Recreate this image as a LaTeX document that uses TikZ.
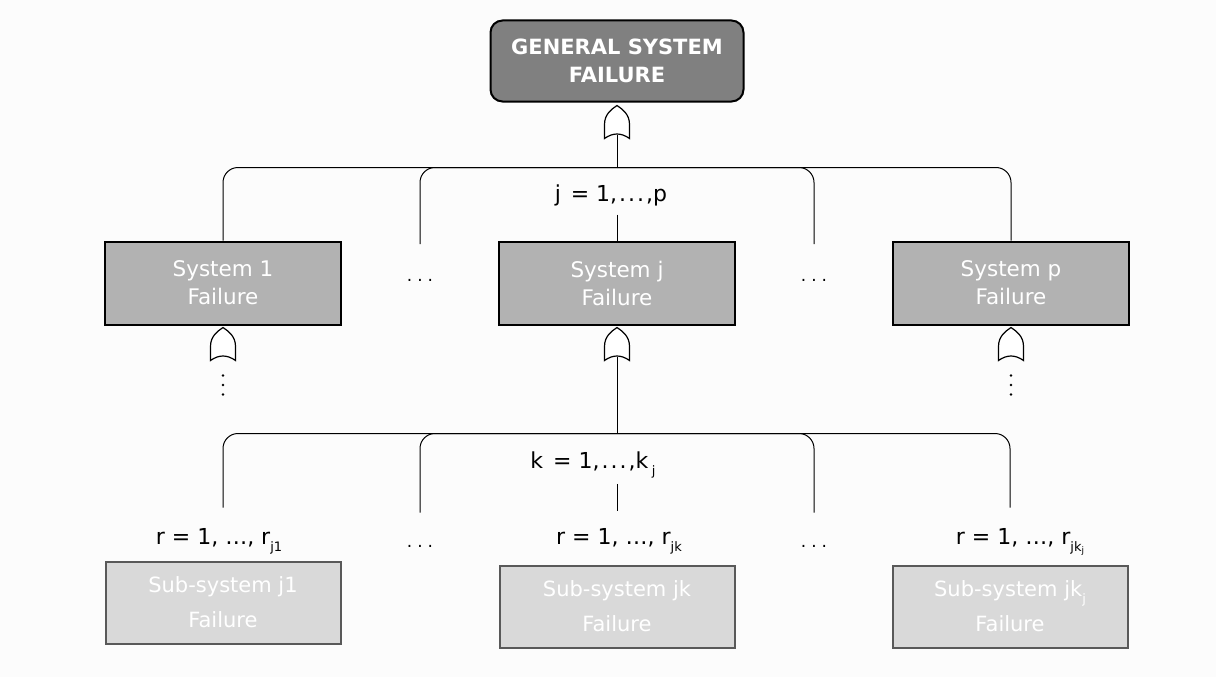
\documentclass[tikz,border=0pt]{standalone}
\usepackage{fontspec}
\setmainfont{DejaVu Sans}
\usetikzlibrary{positioning, calc, backgrounds}

% subindices de las etiquetas
\newcommand{\subind}[1]{\raisebox{-0.55ex}{\fontsize{13}{13}\selectfont #1}}

\begin{document}
\begin{tikzpicture}[
        % Evento superior
        topbox/.style={
                rectangle,
                rounded corners=12pt,
                minimum height=81pt,
                minimum width=253pt,
                align=center,
                font=\bfseries\fontsize{21}{28}\selectfont,
                text=white,
                fill=black!50,
                draw=black,
                line width=2pt
            },
        % Fallo de cada sistema
        sysbox/.style={
                rectangle,
                minimum height=83pt,
                minimum width=236pt,
                align=center,
                font=\fontsize{21.5}{28}\selectfont,
                text=white,
                fill=black!30,
                draw=black,
                line width=2pt
            },
        % Fallo de cada subsistema
        subbox/.style={
                rectangle,
                minimum height=82pt,
                minimum width=235pt,
                align=center,
                font=\fontsize{21}{35}\selectfont,
                text=white,
                fill=black!15,
                draw=black!65,
                line width=2pt
            },
        % Ramas del arbol
        rama/.style={line width=1pt, rounded corners=15pt},
        etiqueta/.style={font=\fontsize{22}{24}\selectfont, inner sep=2pt},
        puntos/.style={font=\fontsize{17}{10}\selectfont, inner sep=0pt},
        % Puerta OR
        orgate/.pic={
                \draw[x=1pt, y=1pt, line width=1.2pt, fill=white]
                (-12.5,-33) -- (-12.5,-19)
                .. controls (-12.5,-9) and (-6,-4) .. (0,0)
                .. controls (6,-4) and (12.5,-9) .. (12.5,-19)
                -- (12.5,-33)
                .. controls (4,-27) and (-4,-27) .. cycle;
                \coordinate (-out) at (0pt,-29pt);
            }
    ]

    \useasboundingbox (0pt,0pt) rectangle (1216pt,-677pt);

    % EVENTO SUPERIOR
    \node[topbox] (top) at (617pt,-61pt) {GENERAL SYSTEM\\FAILURE};

    % SISTEMAS
    \node[sysbox, below=138pt of top] (sysj) {System j\\Failure};
    \node[sysbox, left=156pt of sysj] (sys1) {System 1\\Failure};
    \node[sysbox, right=156pt of sysj] (sysp) {System p\\Failure};

    \node[puntos, yshift=3pt] (dots1) at ($(sys1.east)!0.5!(sysj.west)$) {.\hspace{5pt}.\hspace{5pt}.};
    \node[puntos, yshift=3pt] (dots2) at ($(sysj.east)!0.5!(sysp.west)$) {.\hspace{5pt}.\hspace{5pt}.};

    % SUBSISTEMAS
    \node[subbox, below=239pt of sysj] (subk) {Sub-system jk\\Failure};
    \node[subbox, left=157pt of subk, yshift=4pt] (sub1) {Sub-system j1\\Failure};
    \node[subbox, right=156pt of subk] (subp) {Sub-system jk\subind{j}\\Failure};

    \node[puntos, below=264pt of dots1] (dots3) {.\hspace{5pt}.\hspace{5pt}.};
    \node[puntos, below=264pt of dots2] (dots4) {.\hspace{5pt}.\hspace{5pt}.};

    % Puertas
    \pic (g0) at ([yshift=-3pt]top.south) {orgate};
    \pic (g1) at ([yshift=-2pt]sys1.south) {orgate};
    \pic (gj) at ([yshift=-2pt]sysj.south) {orgate};
    \pic (gp) at ([yshift=-2pt]sysp.south) {orgate};

    % puntos verticales bajo las puertas laterales
    \foreach \g in {g1, gp}
    \foreach \d in {19, 28.5, 38}
    \fill ([yshift=-\d pt]\g-out) circle (1.4pt);

    % Primer nivel
    \coordinate[above=73pt of sysj] (bus1);
    \coordinate (d1) at ([yshift=36pt]dots1.center);
    \coordinate (d2) at ([yshift=36pt]dots2.center);
    \node[etiqueta, above=32pt of sysj, xshift=-6pt] (jlab) {j\hspace{0.45em}= 1,\kern2pt.\kern2pt.\kern2pt.\kern2pt,p};

    \draw (g0-out) -- (bus1);
    \draw[rama] (sys1.north) |- (bus1) -| (sysp.north);
    \draw[rama] (d1) |- (bus1);
    \draw[rama] (d2) |- (bus1);
    \draw[shorten <=6pt] (jlab.south -| sysj.north) -- (sysj.north);

    % Segundo nivel
    \coordinate[below=108pt of sysj] (bus2);
    \node[etiqueta, below=16pt of bus2, xshift=-24pt] (klab) {k\hspace{0.45em}= 1,\kern2pt.\kern2pt.\kern2pt.\kern2pt,k\,\subind{j}};
    \node[etiqueta, above=8pt of subk, xshift=2pt] (rlabk) {r = 1, …, r\subind{jk}};
    \node[etiqueta, anchor=base, xshift=-4pt] (rlab1) at (sub1.north |- rlabk.base) {r = 1, …, r\subind{j1}};
    \node[etiqueta, anchor=base, xshift=10pt] (rlabp) at (subp.north |- rlabk.base) {r = 1, …, r\subind{jk\raisebox{-0.3ex}{\fontsize{9}{9}\selectfont j}}};

    \coordinate (e1) at ([yshift=53pt]sub1.north);
    \coordinate (e4) at ([yshift=57pt]subp.north);
    \coordinate (e2) at ([yshift=34pt]dots3.center);
    \coordinate (e3) at ([yshift=34pt]dots4.center);

    \draw (gj-out) -- (bus2);
    \draw[rama] (e1) |- (bus2) -| (e4);
    \draw[rama] (e2) |- (bus2);
    \draw[rama] (e3) |- (bus2);
    \draw[shorten <=4pt, shorten >=16pt] (klab.south -| bus2) -- (rlabk.north -| bus2);

    % Fondo
    \begin{scope}[on background layer]
        \fill[black!1] (0pt,0pt) rectangle (1216pt,-677pt);
    \end{scope}

\end{tikzpicture}
\end{document}
